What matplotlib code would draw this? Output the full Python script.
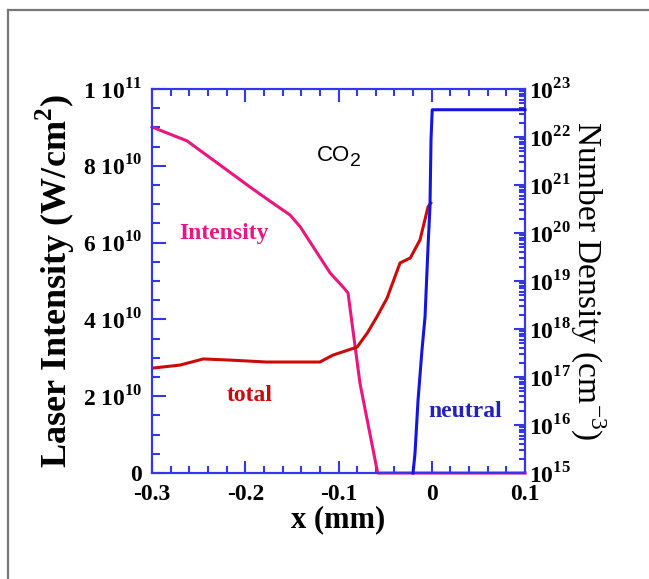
import matplotlib
matplotlib.use("Agg")
import matplotlib.pyplot as plt
from matplotlib.lines import Line2D
from matplotlib.ticker import FixedLocator, MultipleLocator, FixedFormatter

plt.rcParams['font.family'] = ['Liberation Serif', 'DejaVu Serif']
plt.rcParams['mathtext.fontset'] = 'custom'
plt.rcParams['mathtext.rm'] = 'Liberation Serif'
plt.rcParams['mathtext.bf'] = 'Liberation Serif:bold'
plt.rcParams['mathtext.sf'] = 'Liberation Sans'

# ---- data ----
x_int = [-0.3, -0.2625, -0.227, -0.195, -0.177, -0.152, -0.141, -0.109, -0.095, -0.0898, -0.077, -0.058, 0.1]
y_int = [9.01e10, 8.65e10, 8.02e10, 7.45e10, 7.14e10, 6.72e10, 6.41e10, 5.21e10, 4.84e10, 4.69e10, 2.34e10, 0.0, 0.0]

x_tot = [-0.3, -0.270, -0.245, -0.216, -0.177, -0.12, -0.106, -0.080, -0.069, -0.059, -0.048, -0.034, -0.023, -0.0126, -0.004, -0.001]
y_tot = [2.73e10, 2.81e10, 2.97e10, 2.94e10, 2.89e10, 2.89e10, 3.07e10, 3.28e10, 3.65e10, 4.06e10, 4.55e10, 5.47e10, 5.6e10, 6.07e10, 6.93e10, 7.03e10]

x_neu = [-0.0201, -0.0180, -0.0147, -0.0105, -0.0072, -0.0040, -0.0019, -0.0008, 0.0005, 0.1]
y_neu = [1e15, 2.5e15, 3.3e16, 3.6e17, 1.8e18, 5.1e19, 3.5e20, 8.7e21, 3.7e22, 3.7e22]

x_ticks = [-0.3, -0.2, -0.1, 0.0, 0.1]
x_tick_labels = ["-0.3", "-0.2", "-0.1", "0", "0.1"]
yl_ticks = [0, 2e10, 4e10, 6e10, 8e10, 1e11]
yl_tick_labels = ["0", r"2 10$^{\mathbf{10}}$", r"4 10$^{\mathbf{10}}$", r"6 10$^{\mathbf{10}}$",
                  r"8 10$^{\mathbf{10}}$", r"1 10$^{\mathbf{11}}$"]
yr_ticks = [1e15, 1e16, 1e17, 1e18, 1e19, 1e20, 1e21, 1e22, 1e23]
yr_tick_labels = [r"10$^{\mathbf{%d}}$" % e for e in range(15, 24)]

# ---- colours ----
spine_c = '#3535ee'
pink = '#ea1580'
red = '#cc0a0a'
blue = '#1515dd'

fig = plt.figure(figsize=(6.49, 5.79), dpi=100)
fig.patch.set_facecolor('white')
ax1 = fig.add_axes([152/649, 1-473/579, 373/649, 384/579])
ax2 = ax1.twinx()

ax1.plot(x_int, y_int, color=pink, lw=2.2, clip_on=False, zorder=3)
ax1.plot(x_tot, y_tot, color=red, lw=2.2, zorder=3)
ax2.plot(x_neu, y_neu, color=blue, lw=2.2, clip_on=False, zorder=3)

ax1.set_xlim(-0.3, 0.1)
ax1.set_ylim(0, 1e11)
ax2.set_yscale('log')
ax2.set_ylim(1e15, 1e23)

ax1.xaxis.set_major_locator(FixedLocator(x_ticks))
ax1.xaxis.set_major_formatter(FixedFormatter(x_tick_labels))
ax1.xaxis.set_minor_locator(MultipleLocator(0.02))
ax1.yaxis.set_major_locator(FixedLocator(yl_ticks))
ax1.yaxis.set_major_formatter(FixedFormatter(yl_tick_labels))
ax1.yaxis.set_minor_locator(MultipleLocator(0.5e10))
ax2.yaxis.set_major_locator(FixedLocator(yr_ticks))
ax2.yaxis.set_major_formatter(FixedFormatter(yr_tick_labels))

for ax in (ax1, ax2):
    for sp in ax.spines.values():
        sp.set_color(spine_c)
        sp.set_linewidth(1.5)

ax1.tick_params(axis='x', which='both', direction='in', top=True, bottom=True,
                color=spine_c, width=1.5, labelsize=17, pad=8)
ax1.tick_params(axis='x', which='major', length=9)
ax1.tick_params(axis='x', which='minor', length=5)
ax1.tick_params(axis='y', which='both', direction='in', left=True, right=False,
                color=spine_c, width=1.5, labelsize=17, pad=7)
ax1.tick_params(axis='y', which='major', length=10)
ax1.tick_params(axis='y', which='minor', length=5.5)
ax2.tick_params(axis='y', which='both', direction='in', right=True, left=False,
                color=spine_c, width=1.5, labelsize=17, pad=3)
ax2.tick_params(axis='y', which='major', length=8)
ax2.tick_params(axis='y', which='minor', length=4.5)

for lab in ax1.get_xticklabels() + ax1.get_yticklabels() + ax2.get_yticklabels():
    lab.set_fontweight('bold')

ax1.set_xlabel("x (mm)", fontsize=22, fontweight='bold', labelpad=0)
ax1.set_ylabel(r"Laser Intensity (W/cm$^{\mathbf{2}}$)", fontsize=26, fontweight='bold', labelpad=4)
ax2.set_ylabel(r"Number Density (cm$^{-3}$)", fontsize=24, rotation=-90, labelpad=26)

ax1.text(-0.2228, 6.25e10, "Intensity", color=pink, fontsize=17, fontweight='bold',
         ha='center', va='center')
ax1.text(-0.195, 2.03e10, "total", color=red, fontsize=17, fontweight='bold',
         ha='center', va='center')
ax1.text(0.0357, 1.61e10, "neutral", color='#2222bb', fontsize=17, fontweight='bold',
         ha='center', va='center')
# CO2 with a large, low subscript as in the reference
ax1.text(-0.087, 8.28e10, "CO", color='black', fontsize=16,
         family='Liberation Sans', ha='right', va='center')
ax1.annotate("2", xy=(-0.087, 8.28e10), xytext=(-0.5, -5), textcoords='offset points',
             color='black', fontsize=14, family='Liberation Sans', ha='left', va='center')

# outer gray frame (top and left edges)
fig.add_artist(Line2D([8/649, 8/649], [0, 1-10/579], transform=fig.transFigure,
                      color='#777777', lw=1.6))
fig.add_artist(Line2D([8/649, 1], [1-10/579, 1-10/579], transform=fig.transFigure,
                      color='#777777', lw=1.6))

fig.savefig("out.png", dpi=100, facecolor='white')
